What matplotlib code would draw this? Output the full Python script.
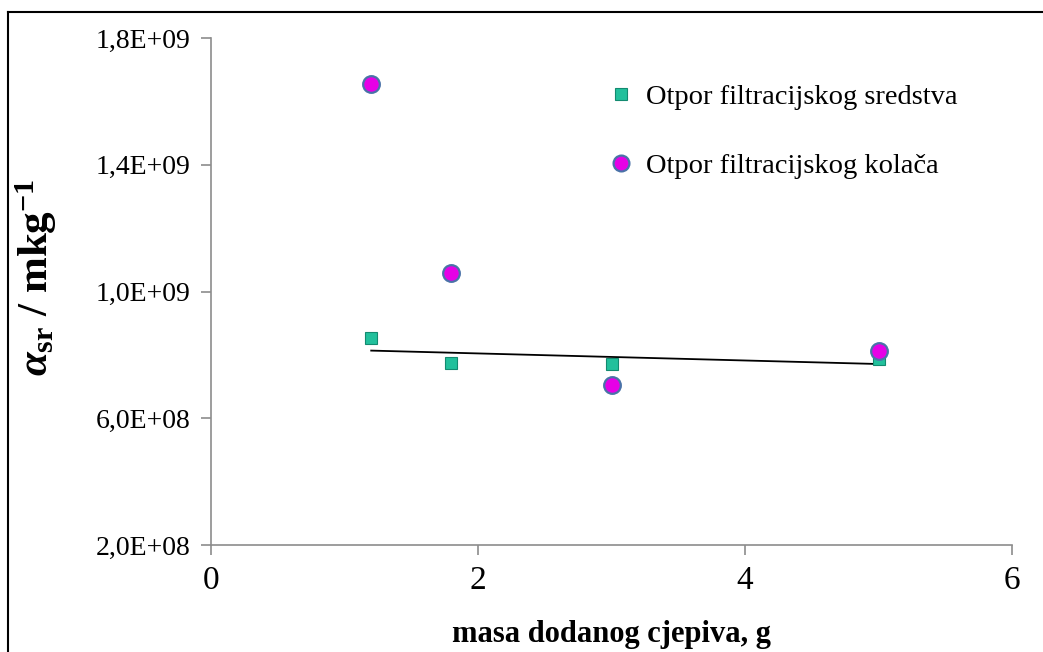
import matplotlib.pyplot as plt
import numpy as np
from matplotlib.lines import Line2D
from matplotlib.ticker import FuncFormatter

plt.rcParams["font.family"] = ["Liberation Serif", "DejaVu Serif"]
plt.rcParams["mathtext.fontset"] = "custom"
plt.rcParams["mathtext.rm"] = "Liberation Serif:bold"
plt.rcParams["mathtext.bf"] = "Liberation Serif:bold"
plt.rcParams["mathtext.it"] = "Liberation Serif:italic:bold"

# data
masa = [1.2, 1.8, 3.0, 5.0]
otpor_sredstva = [8.53e8, 7.74e8, 7.71e8, 7.87e8]
otpor_kolaca = [1.655e9, 1.058e9, 7.05e8, 8.12e8]
labels = ["Otpor filtracijskog sredstva", "Otpor filtracijskog kolača"]
x_ticks = [0, 2, 4, 6]
y_ticks = [2e8, 6e8, 1e9, 1.4e9, 1.8e9]

fig = plt.figure(figsize=(10.43, 6.52), dpi=100)
ax = fig.add_axes([0.2023, 0.1641, 0.7680, 0.7776])

# outer frame (left and top edges only visible)
fig.add_artist(Line2D([8 / 1043, 8 / 1043], [0, 1 - 12 / 652], color="black", lw=1.5,
                      transform=fig.transFigure))
fig.add_artist(Line2D([8 / 1043, 1], [1 - 12 / 652, 1 - 12 / 652], color="black", lw=1.5,
                      transform=fig.transFigure))

# linear trend of the filter medium resistance
coef = np.polyfit(masa, otpor_sredstva, 1)
xs = np.array([masa[0], masa[-1]])
ax.plot(xs, np.polyval(coef, xs), color="black", lw=1.3, zorder=2)

ax.plot(masa, otpor_sredstva, ls="none", marker="s", ms=8.5, mfc="#22c09c",
        mec="#138a70", mew=0.8, label=labels[0], zorder=3)
ax.plot(masa, otpor_kolaca, ls="none", marker="o", ms=12, mfc="#e600e6",
        mec="#4a72a8", mew=1.6, label=labels[1], zorder=4)

ax.set_xlim(0, 6)
ax.set_ylim(2e8, 1.8e9)
ax.set_xticks(x_ticks)
ax.set_yticks(y_ticks)
ax.yaxis.set_major_formatter(FuncFormatter(lambda v, p: f"{v:.1E}".replace(".", ",")))

for side in ("top", "right"):
    ax.spines[side].set_visible(False)
for side in ("left", "bottom"):
    ax.spines[side].set_color("#8c8c8c")
    ax.spines[side].set_linewidth(1.2)
ax.tick_params(axis="both", direction="out", length=7, width=1.2, color="#8c8c8c")
ax.tick_params(axis="x", labelsize=24, pad=8)
ax.tick_params(axis="y", labelsize=20, pad=8)

ax.set_xlabel("masa dodanog cjepiva, g", fontsize=22, fontweight="bold", labelpad=17)
ax.set_ylabel(r"$\alpha_{\mathrm{sr}}$ / mkg$^{\mathrm{-1}}$", fontsize=31,
              fontweight="bold")
ax.yaxis.set_label_coords(-0.19, 0.529)

ax.legend(loc="upper left", bbox_to_anchor=(0.4625, 0.96), frameon=False, fontsize=20.5,
          labelspacing=1.52, handletextpad=0.35, handlelength=1.0, markerscale=0.95)

fig.savefig("out.png", dpi=100)
